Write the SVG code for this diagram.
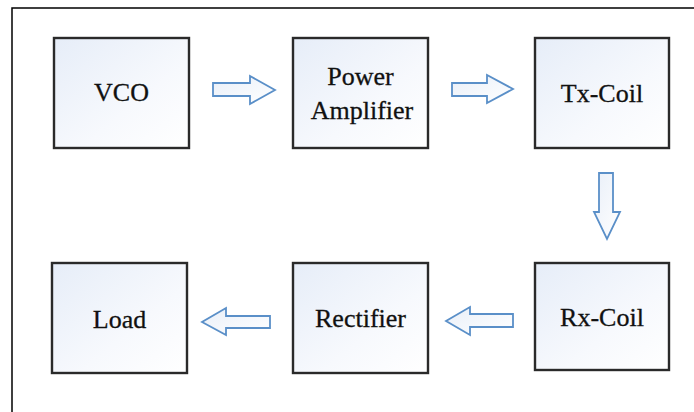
<svg xmlns="http://www.w3.org/2000/svg" width="694" height="412" viewBox="0 0 694 412">
<defs>
<linearGradient id="boxg" x1="0" y1="0" x2="1" y2="1">
<stop offset="0" stop-color="#e6edf8"/>
<stop offset="0.6" stop-color="#f7f9fd"/>
<stop offset="1" stop-color="#ffffff"/>
</linearGradient>
<linearGradient id="arrg" x1="0" y1="0" x2="1" y2="1">
<stop offset="0" stop-color="#e9eff8"/>
<stop offset="1" stop-color="#ffffff"/>
</linearGradient>
</defs>
<style>
.box{fill:url(#boxg);stroke:#2a2a2a;stroke-width:2.4}
.lbl{font-family:"Liberation Serif","Times New Roman",serif;font-size:26px;fill:#111;stroke:#111;stroke-width:0.3;text-anchor:middle}
.arr{fill:url(#arrg);stroke:#5a8fc8;stroke-width:1.8;stroke-linejoin:miter}
.frame{fill:none;stroke:#000;stroke-width:1.5}
</style>
<rect width="694" height="412" fill="#fff"/>
<path class="frame" d="M12 412 V8 H694"/>
<g id="vco"><rect class="box" x="54" y="38" width="135" height="110"/><text class="lbl" x="121.5" y="101">VCO</text></g>
<g id="pa"><rect class="box" x="293" y="38" width="135" height="110"/><text class="lbl" x="360.5" y="85">Power</text><text class="lbl" x="362" y="119">Amplifier</text></g>
<g id="txcoil"><rect class="box" x="535" y="38" width="134" height="110"/><text class="lbl" x="602" y="102">Tx-Coil</text></g>
<g id="load"><rect class="box" x="52" y="263" width="135" height="110"/><text class="lbl" x="119.5" y="328">Load</text></g>
<g id="rectifier"><rect class="box" x="293" y="263" width="135" height="110"/><text class="lbl" x="360.5" y="327">Rectifier</text></g>
<g id="rxcoil"><rect class="box" x="535" y="263" width="134" height="107"/><text class="lbl" x="602" y="326">Rx-Coil</text></g>
<g id="connectors">
<path class="arr" d="M213 83 H250 V76 L275 90 L250 104 V96 H213 Z"/>
<path class="arr" d="M452 83 H487 V75 L513 89 L487 103 V96 H452 Z"/>
<path class="arr" d="M599 173 H613 V212 H620 L607 239 L594 212 H599 Z"/>
<path class="arr" d="M513 314 H470 V307 L446 321 L470 335 V327 H513 Z"/>
<path class="arr" d="M270 316 H226 V308 L202 322 L226 335 V328 H270 Z"/>
</g>
</svg>
